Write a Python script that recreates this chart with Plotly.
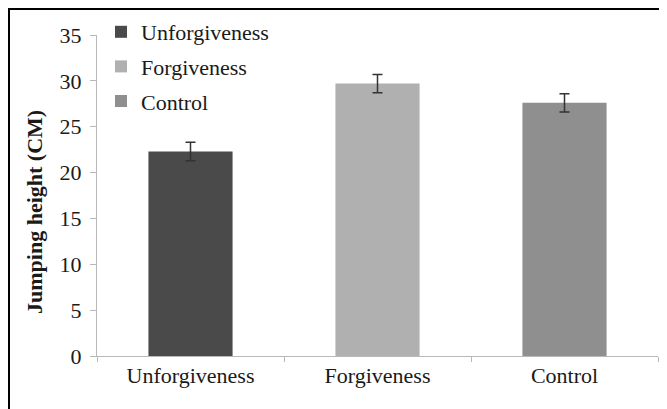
import plotly.graph_objects as go

categories = ["Unforgiveness", "Forgiveness", "Control"]
means = [22.3, 29.7, 27.6]
errors = [1.0, 1.0, 1.0]
colors = ["#4a4a4a", "#b0b0b0", "#8f8f8f"]
y_ticks = [0, 5, 10, 15, 20, 25, 30, 35]
y_title = "Jumping height (CM)"

# page body has an 8px margin, so the figure sits at (8, 8) in the window
OFF = 8
W, H = 667 - OFF, 409 - OFF
L, R, T, B = 97 - OFF, W - (658 - OFF), 35 - OFF, H - (356 - OFF)

fig = go.Figure()
for c, m, e, col in zip(categories, means, errors, colors):
    fig.add_trace(go.Bar(
        x=[c], y=[m], name=c, marker=dict(color=col, line=dict(width=0)),
        width=0.45, legendgroup=c,
        error_y=dict(type="data", array=[e], visible=True, color="#333333",
                     thickness=1.5, width=5),
    ))

pw = W - L - R
ph = H - T - B
def sx(px):  # screen x -> paper x
    return (px - OFF - L) / pw
def sy(py):  # screen y -> paper y
    return 1 - (py - OFF - T) / ph
def cy(py):  # screen y -> container y
    return 1 - (py - OFF) / H

font = "Liberation Serif"
txt = "#1a1a1a"
fs = 22
fig.update_layout(
    width=W, height=H,
    margin=dict(l=L, r=R, t=T, b=B, autoexpand=False),
    paper_bgcolor="white", plot_bgcolor="white",
    barmode="overlay",
    font=dict(family=font, size=fs, color=txt),
    showlegend=True,
    legend=dict(x=sx(101), y=cy(11), yref="container", xanchor="left", yanchor="top",
                bgcolor="rgba(0,0,0,0)", font=dict(family=font, size=fs, color=txt),
                tracegroupgap=3, itemwidth=30),
    xaxis=dict(categoryorder="array", categoryarray=categories,
               showline=True, linecolor="#b8b8b8", linewidth=1,
               ticks="outside", tickson="boundaries", ticklen=5, tickcolor="#b8b8b8",
               showgrid=False, zeroline=False,
               tickfont=dict(family=font, size=fs, color=txt)),
    yaxis=dict(range=[0, 35], tickvals=y_ticks, showline=True, linecolor="#b8b8b8",
               linewidth=1, ticks="outside", ticklen=6, tickcolor="#b8b8b8",
               showgrid=False, zeroline=False, ticklabelstandoff=4,
               tickfont=dict(family=font, size=fs, color=txt)),
)

# y-axis title (placed slightly below the plot centre, as in the reference)
fig.add_annotation(text="<b>" + y_title + "</b>", textangle=-90, showarrow=False,
                   xref="paper", yref="paper", x=sx(35), y=sy(212),
                   xanchor="center", yanchor="middle",
                   font=dict(family=font, size=fs, color=txt))

# outer frame (left and top borders of the cropped figure)
fig.add_shape(type="line", xref="paper", yref="paper",
              x0=sx(9), x1=sx(9), y0=sy(8), y1=sy(409 + 5),
              line=dict(color="black", width=2))
fig.add_shape(type="line", xref="paper", yref="paper",
              x0=sx(8), x1=sx(667 + 5), y0=sy(9), y1=sy(9),
              line=dict(color="black", width=2))

fig.write_html("out.html")
